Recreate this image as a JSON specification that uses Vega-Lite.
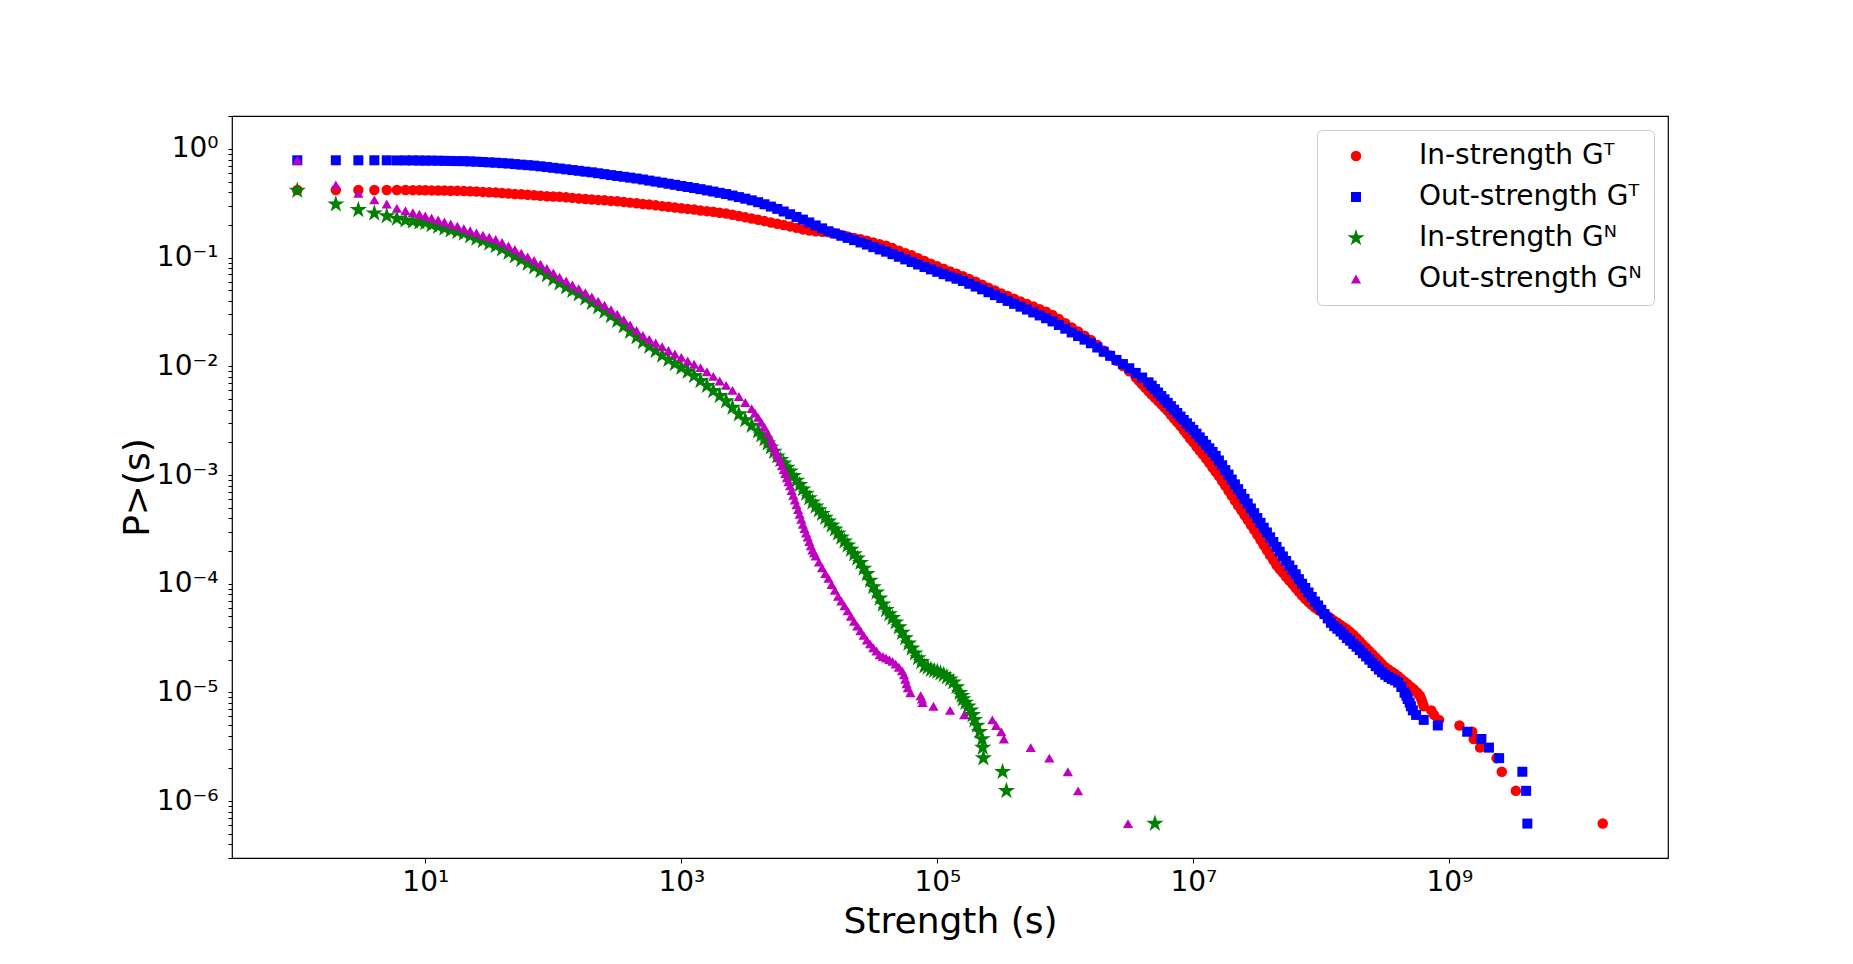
{
"$schema":"https://vega.github.io/schema/vega-lite/v6.json",
"width":1436,"height":742,
"autosize":{"type":"none"},
"padding":{"left":232,"top":116,"right":185,"bottom":106},
"background":"white",
"config":{
 "view":{"stroke":"black","strokeWidth":1.2},
 "font":"DejaVu Sans",
 "axis":{"labelFont":"DejaVu Sans","titleFont":"DejaVu Sans","labelColor":"black","titleColor":"black","tickColor":"black","domain":false,"grid":false,"titleFontWeight":"normal","labelOverlap":false,"labelFlush":false},
 "legend":{"orient":"top-right","offset":14,"fillColor":"rgba(255,255,255,0.8)","strokeColor":"#cccccc","cornerRadius":5,"padding":12,"labelFont":"DejaVu Sans","labelFontSize":28,"labelColor":"black","rowPadding":13,"symbolOffset":13,"labelOffset":49,"labelLimit":500,"symbolStrokeWidth":0}
},
"data":{"values":[
{"k":"IT","s":1,"p":0.42},{"k":"IT","s":2,"p":0.42},{"k":"IT","s":3,"p":0.42},{"k":"IT","s":4,"p":0.42},{"k":"IT","s":5,"p":0.42},
{"k":"IT","s":6,"p":0.419},{"k":"IT","s":7,"p":0.419},{"k":"IT","s":8,"p":0.418},{"k":"IT","s":9,"p":0.418},{"k":"IT","s":10,"p":0.417},
{"k":"IT","s":11.2,"p":0.416},{"k":"IT","s":12.6,"p":0.415},{"k":"IT","s":14.1,"p":0.414},{"k":"IT","s":15.8,"p":0.413},{"k":"IT","s":17.8,"p":0.412},
{"k":"IT","s":20,"p":0.41},{"k":"IT","s":22.4,"p":0.408},{"k":"IT","s":25.1,"p":0.406},{"k":"IT","s":28.2,"p":0.403},{"k":"IT","s":31.6,"p":0.4},
{"k":"IT","s":35.5,"p":0.397},{"k":"IT","s":39.8,"p":0.394},{"k":"IT","s":44.7,"p":0.39},{"k":"IT","s":50.1,"p":0.386},{"k":"IT","s":56.2,"p":0.383},
{"k":"IT","s":63.1,"p":0.379},{"k":"IT","s":70.8,"p":0.375},{"k":"IT","s":79.4,"p":0.371},{"k":"IT","s":89.1,"p":0.368},{"k":"IT","s":100,"p":0.366},
{"k":"IT","s":112,"p":0.363},{"k":"IT","s":126,"p":0.359},{"k":"IT","s":141,"p":0.355},{"k":"IT","s":158,"p":0.351},{"k":"IT","s":178,"p":0.347},
{"k":"IT","s":200,"p":0.343},{"k":"IT","s":224,"p":0.34},{"k":"IT","s":251,"p":0.337},{"k":"IT","s":282,"p":0.333},{"k":"IT","s":316,"p":0.33},
{"k":"IT","s":355,"p":0.326},{"k":"IT","s":398,"p":0.321},{"k":"IT","s":447,"p":0.317},{"k":"IT","s":501,"p":0.312},{"k":"IT","s":562,"p":0.308},
{"k":"IT","s":631,"p":0.303},{"k":"IT","s":708,"p":0.298},{"k":"IT","s":794,"p":0.294},{"k":"IT","s":891,"p":0.289},{"k":"IT","s":1000,"p":0.285},
{"k":"IT","s":1122,"p":0.281},{"k":"IT","s":1259,"p":0.277},{"k":"IT","s":1413,"p":0.272},{"k":"IT","s":1585,"p":0.268},{"k":"IT","s":1778,"p":0.264},
{"k":"IT","s":1995,"p":0.259},{"k":"IT","s":2239,"p":0.255},{"k":"IT","s":2512,"p":0.248},{"k":"IT","s":2818,"p":0.242},{"k":"IT","s":3162,"p":0.235},
{"k":"IT","s":3548,"p":0.229},{"k":"IT","s":3981,"p":0.223},{"k":"IT","s":4467,"p":0.217},{"k":"IT","s":5012,"p":0.211},{"k":"IT","s":5623,"p":0.205},
{"k":"IT","s":6310,"p":0.2},{"k":"IT","s":7079,"p":0.194},{"k":"IT","s":7943,"p":0.188},{"k":"IT","s":8913,"p":0.182},{"k":"IT","s":10000,"p":0.178},
{"k":"IT","s":11220,"p":0.175},{"k":"IT","s":12590,"p":0.173},{"k":"IT","s":14130,"p":0.171},{"k":"IT","s":15850,"p":0.167},{"k":"IT","s":17780,"p":0.162},
{"k":"IT","s":19950,"p":0.157},{"k":"IT","s":22390,"p":0.152},{"k":"IT","s":25120,"p":0.148},{"k":"IT","s":28180,"p":0.143},{"k":"IT","s":31620,"p":0.138},
{"k":"IT","s":35480,"p":0.133},{"k":"IT","s":39810,"p":0.129},{"k":"IT","s":44670,"p":0.1225},{"k":"IT","s":50120,"p":0.116},{"k":"IT","s":56230,"p":0.11},
{"k":"IT","s":63100,"p":0.105},{"k":"IT","s":70790,"p":0.0989},{"k":"IT","s":79430,"p":0.0933},{"k":"IT","s":89130,"p":0.0881},{"k":"IT","s":100000,"p":0.0832},
{"k":"IT","s":112200,"p":0.0789},{"k":"IT","s":125900,"p":0.0748},{"k":"IT","s":141300,"p":0.0711},{"k":"IT","s":158500,"p":0.0676},{"k":"IT","s":177800,"p":0.0638},
{"k":"IT","s":199500,"p":0.06},{"k":"IT","s":223900,"p":0.0564},{"k":"IT","s":251200,"p":0.053},{"k":"IT","s":281800,"p":0.0498},{"k":"IT","s":316200,"p":0.0468},
{"k":"IT","s":354800,"p":0.0443},{"k":"IT","s":398100,"p":0.0419},{"k":"IT","s":446700,"p":0.0396},{"k":"IT","s":501200,"p":0.0375},{"k":"IT","s":562300,"p":0.0355},
{"k":"IT","s":631000,"p":0.0336},{"k":"IT","s":707900,"p":0.0318},{"k":"IT","s":794300,"p":0.0297},{"k":"IT","s":891300,"p":0.0272},{"k":"IT","s":1000000,"p":0.0249},
{"k":"IT","s":1122000,"p":0.0228},{"k":"IT","s":1259000,"p":0.0209},{"k":"IT","s":1413000,"p":0.0191},{"k":"IT","s":1585000,"p":0.0175},{"k":"IT","s":1778000,"p":0.0157},
{"k":"IT","s":1995000,"p":0.014},{"k":"IT","s":2239000,"p":0.0126},{"k":"IT","s":2512000,"p":0.01125},{"k":"IT","s":2818000,"p":0.01007},{"k":"IT","s":3162000,"p":0.00902},
{"k":"IT","s":3548000,"p":0.00794},{"k":"IT","s":3758000,"p":0.00736},{"k":"IT","s":3981000,"p":0.00684},{"k":"IT","s":4217000,"p":0.00634},{"k":"IT","s":4467000,"p":0.00589},
{"k":"IT","s":4732000,"p":0.0055},{"k":"IT","s":5012000,"p":0.00513},{"k":"IT","s":5309000,"p":0.00479},{"k":"IT","s":5623000,"p":0.00447},{"k":"IT","s":5957000,"p":0.00417},
{"k":"IT","s":6310000,"p":0.00389},{"k":"IT","s":6683000,"p":0.00359},{"k":"IT","s":7079000,"p":0.00331},{"k":"IT","s":7499000,"p":0.00305},{"k":"IT","s":7943000,"p":0.00282},
{"k":"IT","s":8414000,"p":0.00258},{"k":"IT","s":8913000,"p":0.00237},{"k":"IT","s":9441000,"p":0.00217},{"k":"IT","s":10000000,"p":0.002},{"k":"IT","s":10590000,"p":0.00183},
{"k":"IT","s":11220000,"p":0.00168},{"k":"IT","s":11890000,"p":0.00154},{"k":"IT","s":12590000,"p":0.00141},{"k":"IT","s":13340000,"p":0.00129},{"k":"IT","s":14130000,"p":0.00117},
{"k":"IT","s":14960000,"p":0.00107},{"k":"IT","s":15850000,"p":0.000977},{"k":"IT","s":16790000,"p":0.000881},{"k":"IT","s":17780000,"p":0.000794},{"k":"IT","s":18840000,"p":0.000716},
{"k":"IT","s":19950000,"p":0.000646},{"k":"IT","s":21130000,"p":0.000582},{"k":"IT","s":22390000,"p":0.000525},{"k":"IT","s":23710000,"p":0.000473},{"k":"IT","s":25120000,"p":0.000427},
{"k":"IT","s":26610000,"p":0.000385},{"k":"IT","s":28180000,"p":0.000347},{"k":"IT","s":29850000,"p":0.000313},{"k":"IT","s":31620000,"p":0.000282},{"k":"IT","s":33500000,"p":0.000252},
{"k":"IT","s":35480000,"p":0.000226},{"k":"IT","s":37580000,"p":0.000203},{"k":"IT","s":39810000,"p":0.000182},{"k":"IT","s":42170000,"p":0.000164},{"k":"IT","s":44670000,"p":0.000148},
{"k":"IT","s":47320000,"p":0.000136},{"k":"IT","s":50120000,"p":0.000126},{"k":"IT","s":53090000,"p":0.000116},{"k":"IT","s":56230000,"p":0.000107},{"k":"IT","s":59570000,"p":0.0000989},
{"k":"IT","s":63100000,"p":0.0000912},{"k":"IT","s":66830000,"p":0.0000841},{"k":"IT","s":70790000,"p":0.0000776},{"k":"IT","s":74990000,"p":0.0000724},{"k":"IT","s":79430000,"p":0.0000676},
{"k":"IT","s":84140000,"p":0.0000638},{"k":"IT","s":89130000,"p":0.0000603},{"k":"IT","s":94410000,"p":0.0000575},{"k":"IT","s":100000000,"p":0.000055},{"k":"IT","s":105900000,"p":0.0000525},
{"k":"IT","s":112200000,"p":0.0000501},{"k":"IT","s":118900000,"p":0.0000479},{"k":"IT","s":125900000,"p":0.0000457},{"k":"IT","s":133400000,"p":0.0000437},{"k":"IT","s":141300000,"p":0.0000417},
{"k":"IT","s":149600000,"p":0.0000398},{"k":"IT","s":158500000,"p":0.000038},{"k":"IT","s":167900000,"p":0.0000359},{"k":"IT","s":177800000,"p":0.0000339},{"k":"IT","s":188400000,"p":0.0000316},
{"k":"IT","s":199500000,"p":0.0000295},{"k":"IT","s":211300000,"p":0.0000275},{"k":"IT","s":223900000,"p":0.0000257},{"k":"IT","s":237100000,"p":0.000024},{"k":"IT","s":251200000,"p":0.0000224},
{"k":"IT","s":266100000,"p":0.0000209},{"k":"IT","s":281800000,"p":0.0000195},{"k":"IT","s":298500000,"p":0.0000182},{"k":"IT","s":316200000,"p":0.000017},{"k":"IT","s":335000000,"p":0.0000162},
{"k":"IT","s":354800000,"p":0.0000155},{"k":"IT","s":375800000,"p":0.0000148},{"k":"IT","s":398100000,"p":0.0000141},{"k":"IT","s":421700000,"p":0.0000133},{"k":"IT","s":446700000,"p":0.0000126},
{"k":"IT","s":473200000,"p":0.0000119},{"k":"IT","s":501200000,"p":0.0000112},{"k":"IT","s":530900000,"p":0.0000106},{"k":"IT","s":562300000,"p":0.00000992},{"k":"IT","s":589000000,"p":0.0000093},
{"k":"IT","s":603000000,"p":0.00000868},{"k":"IT","s":617000000,"p":0.00000806},{"k":"IT","s":631000000,"p":0.00000744},{"k":"IT","s":724000000,"p":0.00000682},{"k":"IT","s":759000000,"p":0.0000062},
{"k":"IT","s":832000000,"p":0.00000558},{"k":"IT","s":1200000000,"p":0.00000496},{"k":"IT","s":1510000000,"p":0.00000434},{"k":"IT","s":1550000000,"p":0.00000372},{"k":"IT","s":1740000000,"p":0.0000031},
{"k":"IT","s":2340000000,"p":0.00000248},{"k":"IT","s":2570000000,"p":0.00000186},{"k":"IT","s":3310000000,"p":0.00000124},{"k":"IT","s":15800000000,"p":0.00000062},
{"k":"OT","s":1,"p":0.787},{"k":"OT","s":2,"p":0.787},{"k":"OT","s":3,"p":0.787},{"k":"OT","s":4,"p":0.787},{"k":"OT","s":5,"p":0.787},
{"k":"OT","s":6,"p":0.785},{"k":"OT","s":7,"p":0.785},{"k":"OT","s":8,"p":0.785},{"k":"OT","s":9,"p":0.783},{"k":"OT","s":10,"p":0.782},
{"k":"OT","s":11.2,"p":0.782},{"k":"OT","s":12.6,"p":0.78},{"k":"OT","s":14.1,"p":0.778},{"k":"OT","s":15.8,"p":0.776},{"k":"OT","s":17.8,"p":0.774},
{"k":"OT","s":20,"p":0.773},{"k":"OT","s":22.4,"p":0.769},{"k":"OT","s":25.1,"p":0.764},{"k":"OT","s":28.2,"p":0.759},{"k":"OT","s":31.6,"p":0.753},
{"k":"OT","s":35.5,"p":0.748},{"k":"OT","s":39.8,"p":0.741},{"k":"OT","s":44.7,"p":0.735},{"k":"OT","s":50.1,"p":0.726},{"k":"OT","s":56.2,"p":0.718},
{"k":"OT","s":63.1,"p":0.71},{"k":"OT","s":70.8,"p":0.703},{"k":"OT","s":79.4,"p":0.693},{"k":"OT","s":89.1,"p":0.682},{"k":"OT","s":100,"p":0.671},
{"k":"OT","s":112,"p":0.661},{"k":"OT","s":126,"p":0.65},{"k":"OT","s":141,"p":0.64},{"k":"OT","s":158,"p":0.63},{"k":"OT","s":178,"p":0.619},
{"k":"OT","s":200,"p":0.61},{"k":"OT","s":224,"p":0.598},{"k":"OT","s":251,"p":0.587},{"k":"OT","s":282,"p":0.575},{"k":"OT","s":316,"p":0.565},
{"k":"OT","s":355,"p":0.555},{"k":"OT","s":398,"p":0.545},{"k":"OT","s":447,"p":0.535},{"k":"OT","s":501,"p":0.524},{"k":"OT","s":562,"p":0.512},
{"k":"OT","s":631,"p":0.501},{"k":"OT","s":708,"p":0.49},{"k":"OT","s":794,"p":0.479},{"k":"OT","s":891,"p":0.468},{"k":"OT","s":1000,"p":0.457},
{"k":"OT","s":1122,"p":0.447},{"k":"OT","s":1259,"p":0.437},{"k":"OT","s":1413,"p":0.427},{"k":"OT","s":1585,"p":0.416},{"k":"OT","s":1778,"p":0.406},
{"k":"OT","s":1995,"p":0.395},{"k":"OT","s":2239,"p":0.385},{"k":"OT","s":2512,"p":0.373},{"k":"OT","s":2818,"p":0.361},{"k":"OT","s":3162,"p":0.349},
{"k":"OT","s":3548,"p":0.337},{"k":"OT","s":3981,"p":0.324},{"k":"OT","s":4467,"p":0.31},{"k":"OT","s":5012,"p":0.295},{"k":"OT","s":5623,"p":0.281},
{"k":"OT","s":6310,"p":0.266},{"k":"OT","s":7079,"p":0.251},{"k":"OT","s":7943,"p":0.237},{"k":"OT","s":8913,"p":0.224},{"k":"OT","s":10000,"p":0.211},
{"k":"OT","s":11220,"p":0.198},{"k":"OT","s":12590,"p":0.186},{"k":"OT","s":14130,"p":0.175},{"k":"OT","s":15850,"p":0.167},{"k":"OT","s":17780,"p":0.159},
{"k":"OT","s":19950,"p":0.152},{"k":"OT","s":22390,"p":0.145},{"k":"OT","s":25120,"p":0.138},{"k":"OT","s":28180,"p":0.132},{"k":"OT","s":31620,"p":0.125},
{"k":"OT","s":35480,"p":0.119},{"k":"OT","s":39810,"p":0.1135},{"k":"OT","s":44670,"p":0.1076},{"k":"OT","s":50120,"p":0.1019},{"k":"OT","s":56230,"p":0.0964},
{"k":"OT","s":63100,"p":0.0912},{"k":"OT","s":70790,"p":0.0865},{"k":"OT","s":79430,"p":0.082},{"k":"OT","s":89130,"p":0.078},{"k":"OT","s":100000,"p":0.0741},
{"k":"OT","s":112200,"p":0.0705},{"k":"OT","s":125900,"p":0.0671},{"k":"OT","s":141300,"p":0.064},{"k":"OT","s":158500,"p":0.061},{"k":"OT","s":177800,"p":0.0575},
{"k":"OT","s":199500,"p":0.0542},{"k":"OT","s":223900,"p":0.0511},{"k":"OT","s":251200,"p":0.0481},{"k":"OT","s":281800,"p":0.0452},{"k":"OT","s":316200,"p":0.0425},
{"k":"OT","s":354800,"p":0.04},{"k":"OT","s":398100,"p":0.0376},{"k":"OT","s":446700,"p":0.0354},{"k":"OT","s":501200,"p":0.0333},{"k":"OT","s":562300,"p":0.0313},
{"k":"OT","s":631000,"p":0.0294},{"k":"OT","s":707900,"p":0.0277},{"k":"OT","s":794300,"p":0.0259},{"k":"OT","s":891300,"p":0.024},{"k":"OT","s":1000000,"p":0.0222},
{"k":"OT","s":1122000,"p":0.0205},{"k":"OT","s":1259000,"p":0.019},{"k":"OT","s":1413000,"p":0.0176},{"k":"OT","s":1585000,"p":0.0163},{"k":"OT","s":1778000,"p":0.0149},
{"k":"OT","s":1995000,"p":0.0136},{"k":"OT","s":2239000,"p":0.0125},{"k":"OT","s":2512000,"p":0.01146},{"k":"OT","s":2818000,"p":0.0105},{"k":"OT","s":3162000,"p":0.0096},
{"k":"OT","s":3548000,"p":0.0087},{"k":"OT","s":3981000,"p":0.00789},{"k":"OT","s":4467000,"p":0.00713},{"k":"OT","s":4732000,"p":0.00664},{"k":"OT","s":5012000,"p":0.00618},
{"k":"OT","s":5309000,"p":0.00574},{"k":"OT","s":5623000,"p":0.00533},{"k":"OT","s":5957000,"p":0.00497},{"k":"OT","s":6310000,"p":0.00461},{"k":"OT","s":6683000,"p":0.0043},
{"k":"OT","s":7079000,"p":0.00399},{"k":"OT","s":7499000,"p":0.00372},{"k":"OT","s":7943000,"p":0.00345},{"k":"OT","s":8414000,"p":0.00321},{"k":"OT","s":8913000,"p":0.00299},
{"k":"OT","s":9441000,"p":0.00278},{"k":"OT","s":10000000,"p":0.0026},{"k":"OT","s":10590000,"p":0.0024},{"k":"OT","s":11220000,"p":0.00222},{"k":"OT","s":11890000,"p":0.00206},
{"k":"OT","s":12590000,"p":0.0019},{"k":"OT","s":13340000,"p":0.00176},{"k":"OT","s":14130000,"p":0.00163},{"k":"OT","s":14960000,"p":0.0015},{"k":"OT","s":15850000,"p":0.00136},
{"k":"OT","s":16790000,"p":0.00123},{"k":"OT","s":17780000,"p":0.00111},{"k":"OT","s":18840000,"p":0.00101},{"k":"OT","s":19950000,"p":0.000908},{"k":"OT","s":21130000,"p":0.00082},
{"k":"OT","s":22390000,"p":0.000741},{"k":"OT","s":23710000,"p":0.00067},{"k":"OT","s":25120000,"p":0.000604},{"k":"OT","s":26610000,"p":0.000546},{"k":"OT","s":28180000,"p":0.000492},
{"k":"OT","s":29850000,"p":0.000445},{"k":"OT","s":31620000,"p":0.000402},{"k":"OT","s":33500000,"p":0.000363},{"k":"OT","s":35480000,"p":0.000327},{"k":"OT","s":37580000,"p":0.000296},
{"k":"OT","s":39810000,"p":0.000267},{"k":"OT","s":42170000,"p":0.000242},{"k":"OT","s":44670000,"p":0.000218},{"k":"OT","s":47320000,"p":0.000197},{"k":"OT","s":50120000,"p":0.000178},
{"k":"OT","s":53090000,"p":0.000162},{"k":"OT","s":56230000,"p":0.000147},{"k":"OT","s":59570000,"p":0.000134},{"k":"OT","s":63100000,"p":0.000122},{"k":"OT","s":66830000,"p":0.00011},
{"k":"OT","s":70790000,"p":0.0001},{"k":"OT","s":74990000,"p":0.0000912},{"k":"OT","s":79430000,"p":0.000083},{"k":"OT","s":84140000,"p":0.0000755},{"k":"OT","s":89130000,"p":0.0000685},
{"k":"OT","s":94410000,"p":0.0000631},{"k":"OT","s":100000000,"p":0.0000575},{"k":"OT","s":105900000,"p":0.0000525},{"k":"OT","s":112200000,"p":0.0000479},{"k":"OT","s":118900000,"p":0.0000437},
{"k":"OT","s":125900000,"p":0.0000407},{"k":"OT","s":133400000,"p":0.0000385},{"k":"OT","s":141300000,"p":0.0000363},{"k":"OT","s":149600000,"p":0.0000339},{"k":"OT","s":158500000,"p":0.0000316},
{"k":"OT","s":167900000,"p":0.0000299},{"k":"OT","s":177800000,"p":0.0000279},{"k":"OT","s":188400000,"p":0.0000263},{"k":"OT","s":199500000,"p":0.0000245},{"k":"OT","s":211300000,"p":0.0000229},
{"k":"OT","s":223900000,"p":0.0000214},{"k":"OT","s":237100000,"p":0.00002},{"k":"OT","s":251200000,"p":0.0000186},{"k":"OT","s":266100000,"p":0.0000174},{"k":"OT","s":281800000,"p":0.0000162},
{"k":"OT","s":298500000,"p":0.0000153},{"k":"OT","s":316200000,"p":0.0000145},{"k":"OT","s":335000000,"p":0.0000138},{"k":"OT","s":354800000,"p":0.0000133},{"k":"OT","s":375800000,"p":0.0000129},
{"k":"OT","s":398100000,"p":0.0000123},{"k":"OT","s":421700000,"p":0.0000112},{"k":"OT","s":446700000,"p":0.00000992},{"k":"OT","s":462000000,"p":0.0000093},{"k":"OT","s":473200000,"p":0.00000868},
{"k":"OT","s":490000000,"p":0.00000806},{"k":"OT","s":501200000,"p":0.00000744},{"k":"OT","s":519000000,"p":0.00000682},{"k":"OT","s":550000000,"p":0.0000062},{"k":"OT","s":631000000,"p":0.00000558},
{"k":"OT","s":813000000,"p":0.00000496},{"k":"OT","s":1380000000,"p":0.00000434},{"k":"OT","s":1780000000,"p":0.00000372},{"k":"OT","s":2040000000,"p":0.0000031},{"k":"OT","s":2450000000,"p":0.00000248},
{"k":"OT","s":3720000000,"p":0.00000186},{"k":"OT","s":3980000000,"p":0.00000124},{"k":"OT","s":4070000000,"p":0.00000062},
{"k":"IN","s":1,"p":0.414},{"k":"IN","s":2,"p":0.31},{"k":"IN","s":3,"p":0.275},{"k":"IN","s":4,"p":0.256},{"k":"IN","s":5,"p":0.242},
{"k":"IN","s":6,"p":0.229},{"k":"IN","s":7,"p":0.221},{"k":"IN","s":8,"p":0.216},{"k":"IN","s":9,"p":0.212},{"k":"IN","s":10,"p":0.209},
{"k":"IN","s":11.2,"p":0.2},{"k":"IN","s":12.6,"p":0.193},{"k":"IN","s":14.1,"p":0.186},{"k":"IN","s":15.8,"p":0.179},{"k":"IN","s":17.8,"p":0.173},
{"k":"IN","s":20,"p":0.167},{"k":"IN","s":22.4,"p":0.158},{"k":"IN","s":25.1,"p":0.15},{"k":"IN","s":28.2,"p":0.143},{"k":"IN","s":31.6,"p":0.135},
{"k":"IN","s":35.5,"p":0.128},{"k":"IN","s":39.8,"p":0.12},{"k":"IN","s":44.7,"p":0.111},{"k":"IN","s":50.1,"p":0.103},{"k":"IN","s":56.2,"p":0.0955},
{"k":"IN","s":63.1,"p":0.0883},{"k":"IN","s":70.8,"p":0.0818},{"k":"IN","s":79.4,"p":0.0755},{"k":"IN","s":89.1,"p":0.0692},{"k":"IN","s":100,"p":0.0634},
{"k":"IN","s":112,"p":0.0581},{"k":"IN","s":126,"p":0.0535},{"k":"IN","s":141,"p":0.0497},{"k":"IN","s":158,"p":0.0461},{"k":"IN","s":178,"p":0.0421},
{"k":"IN","s":200,"p":0.0384},{"k":"IN","s":224,"p":0.035},{"k":"IN","s":251,"p":0.0319},{"k":"IN","s":282,"p":0.0291},{"k":"IN","s":316,"p":0.0263},
{"k":"IN","s":355,"p":0.0234},{"k":"IN","s":398,"p":0.0209},{"k":"IN","s":447,"p":0.0186},{"k":"IN","s":501,"p":0.0167},{"k":"IN","s":562,"p":0.0152},
{"k":"IN","s":631,"p":0.0139},{"k":"IN","s":708,"p":0.0126},{"k":"IN","s":794,"p":0.0115},{"k":"IN","s":891,"p":0.01054},{"k":"IN","s":1000,"p":0.0097},
{"k":"IN","s":1122,"p":0.00893},{"k":"IN","s":1259,"p":0.00817},{"k":"IN","s":1413,"p":0.00735},{"k":"IN","s":1585,"p":0.00661},{"k":"IN","s":1778,"p":0.00594},
{"k":"IN","s":1995,"p":0.00535},{"k":"IN","s":2239,"p":0.00479},{"k":"IN","s":2512,"p":0.00417},{"k":"IN","s":2818,"p":0.00363},{"k":"IN","s":3162,"p":0.00321},
{"k":"IN","s":3548,"p":0.00285},{"k":"IN","s":3981,"p":0.00253},{"k":"IN","s":4217,"p":0.00233},{"k":"IN","s":4467,"p":0.00214},{"k":"IN","s":4732,"p":0.00196},
{"k":"IN","s":5012,"p":0.0018},{"k":"IN","s":5309,"p":0.00164},{"k":"IN","s":5623,"p":0.00149},{"k":"IN","s":5957,"p":0.00138},{"k":"IN","s":6310,"p":0.00128},
{"k":"IN","s":6683,"p":0.00117},{"k":"IN","s":7079,"p":0.00108},{"k":"IN","s":7499,"p":0.000982},{"k":"IN","s":7943,"p":0.000891},{"k":"IN","s":8414,"p":0.000813},
{"k":"IN","s":8913,"p":0.00074},{"k":"IN","s":9441,"p":0.000675},{"k":"IN","s":10000,"p":0.000614},{"k":"IN","s":10590,"p":0.000562},{"k":"IN","s":11220,"p":0.000515},
{"k":"IN","s":11890,"p":0.000476},{"k":"IN","s":12590,"p":0.00044},{"k":"IN","s":13340,"p":0.000406},{"k":"IN","s":14130,"p":0.000375},{"k":"IN","s":14960,"p":0.000344},
{"k":"IN","s":15850,"p":0.000316},{"k":"IN","s":16790,"p":0.000291},{"k":"IN","s":17780,"p":0.000267},{"k":"IN","s":18840,"p":0.000246},{"k":"IN","s":19950,"p":0.000226},
{"k":"IN","s":21130,"p":0.000206},{"k":"IN","s":22390,"p":0.000187},{"k":"IN","s":23710,"p":0.000171},{"k":"IN","s":25120,"p":0.000156},{"k":"IN","s":26610,"p":0.000138},
{"k":"IN","s":28180,"p":0.000123},{"k":"IN","s":29850,"p":0.000107},{"k":"IN","s":31620,"p":0.0000933},{"k":"IN","s":33500,"p":0.0000832},{"k":"IN","s":35480,"p":0.0000733},
{"k":"IN","s":37580,"p":0.0000646},{"k":"IN","s":39810,"p":0.0000575},{"k":"IN","s":42170,"p":0.0000525},{"k":"IN","s":44670,"p":0.0000484},{"k":"IN","s":47320,"p":0.0000442},
{"k":"IN","s":50120,"p":0.0000398},{"k":"IN","s":53090,"p":0.0000355},{"k":"IN","s":56230,"p":0.0000316},{"k":"IN","s":59570,"p":0.0000282},{"k":"IN","s":63100,"p":0.0000254},
{"k":"IN","s":66830,"p":0.0000229},{"k":"IN","s":70790,"p":0.0000207},{"k":"IN","s":74990,"p":0.0000191},{"k":"IN","s":79430,"p":0.0000174},{"k":"IN","s":84140,"p":0.000017},
{"k":"IN","s":89130,"p":0.0000162},{"k":"IN","s":94410,"p":0.0000158},{"k":"IN","s":100000,"p":0.0000155},{"k":"IN","s":105900,"p":0.000015},{"k":"IN","s":112200,"p":0.0000145},
{"k":"IN","s":118900,"p":0.0000138},{"k":"IN","s":125900,"p":0.0000132},{"k":"IN","s":133400,"p":0.0000124},{"k":"IN","s":141300,"p":0.0000112},{"k":"IN","s":149600,"p":0.00000992},
{"k":"IN","s":155000,"p":0.0000093},{"k":"IN","s":158500,"p":0.00000868},{"k":"IN","s":166000,"p":0.00000806},{"k":"IN","s":173800,"p":0.00000744},{"k":"IN","s":182000,"p":0.00000682},
{"k":"IN","s":188400,"p":0.0000062},{"k":"IN","s":195000,"p":0.00000558},{"k":"IN","s":204200,"p":0.00000496},{"k":"IN","s":213800,"p":0.00000434},{"k":"IN","s":223900,"p":0.00000372},
{"k":"IN","s":226500,"p":0.0000031},{"k":"IN","s":229100,"p":0.00000248},{"k":"IN","s":323600,"p":0.00000186},{"k":"IN","s":346700,"p":0.00000124},{"k":"IN","s":5012000,"p":0.00000062},
{"k":"ON","s":1,"p":0.787},{"k":"ON","s":2,"p":0.466},{"k":"ON","s":3,"p":0.39},{"k":"ON","s":4,"p":0.34},{"k":"ON","s":5,"p":0.312},
{"k":"ON","s":6,"p":0.284},{"k":"ON","s":7,"p":0.27},{"k":"ON","s":8,"p":0.26},{"k":"ON","s":9,"p":0.251},{"k":"ON","s":10,"p":0.242},
{"k":"ON","s":11.2,"p":0.232},{"k":"ON","s":12.6,"p":0.222},{"k":"ON","s":14.1,"p":0.213},{"k":"ON","s":15.8,"p":0.204},{"k":"ON","s":17.8,"p":0.195},
{"k":"ON","s":20,"p":0.185},{"k":"ON","s":22.4,"p":0.177},{"k":"ON","s":25.1,"p":0.169},{"k":"ON","s":28.2,"p":0.161},{"k":"ON","s":31.6,"p":0.154},
{"k":"ON","s":35.5,"p":0.147},{"k":"ON","s":39.8,"p":0.138},{"k":"ON","s":44.7,"p":0.128},{"k":"ON","s":50.1,"p":0.119},{"k":"ON","s":56.2,"p":0.11},
{"k":"ON","s":63.1,"p":0.1016},{"k":"ON","s":70.8,"p":0.0942},{"k":"ON","s":79.4,"p":0.0871},{"k":"ON","s":89.1,"p":0.0794},{"k":"ON","s":100,"p":0.0724},
{"k":"ON","s":112,"p":0.0661},{"k":"ON","s":126,"p":0.061},{"k":"ON","s":141,"p":0.0562},{"k":"ON","s":158,"p":0.0519},{"k":"ON","s":178,"p":0.0475},
{"k":"ON","s":200,"p":0.0435},{"k":"ON","s":224,"p":0.0398},{"k":"ON","s":251,"p":0.0365},{"k":"ON","s":282,"p":0.0333},{"k":"ON","s":316,"p":0.0302},
{"k":"ON","s":355,"p":0.0269},{"k":"ON","s":398,"p":0.024},{"k":"ON","s":447,"p":0.0214},{"k":"ON","s":501,"p":0.0192},{"k":"ON","s":562,"p":0.0177},
{"k":"ON","s":631,"p":0.0164},{"k":"ON","s":708,"p":0.0152},{"k":"ON","s":794,"p":0.014},{"k":"ON","s":891,"p":0.013},{"k":"ON","s":1000,"p":0.0121},
{"k":"ON","s":1122,"p":0.0112},{"k":"ON","s":1259,"p":0.01045},{"k":"ON","s":1413,"p":0.00973},{"k":"ON","s":1585,"p":0.00891},{"k":"ON","s":1778,"p":0.00809},
{"k":"ON","s":1995,"p":0.00733},{"k":"ON","s":2239,"p":0.00668},{"k":"ON","s":2512,"p":0.00601},{"k":"ON","s":2818,"p":0.00528},{"k":"ON","s":3162,"p":0.00465},
{"k":"ON","s":3548,"p":0.00408},{"k":"ON","s":3758,"p":0.00372},{"k":"ON","s":3981,"p":0.00339},{"k":"ON","s":4217,"p":0.00305},{"k":"ON","s":4467,"p":0.00275},
{"k":"ON","s":4732,"p":0.00242},{"k":"ON","s":5012,"p":0.00212},{"k":"ON","s":5158,"p":0.00196},{"k":"ON","s":5309,"p":0.00181},{"k":"ON","s":5464,"p":0.00167},
{"k":"ON","s":5623,"p":0.00155},{"k":"ON","s":5787,"p":0.00144},{"k":"ON","s":5957,"p":0.00133},{"k":"ON","s":6131,"p":0.00122},{"k":"ON","s":6310,"p":0.00112},
{"k":"ON","s":6494,"p":0.00103},{"k":"ON","s":6683,"p":0.000944},{"k":"ON","s":6878,"p":0.000867},{"k":"ON","s":7079,"p":0.000794},{"k":"ON","s":7286,"p":0.000718},
{"k":"ON","s":7499,"p":0.000649},{"k":"ON","s":7718,"p":0.000587},{"k":"ON","s":7943,"p":0.000531},{"k":"ON","s":8175,"p":0.00048},{"k":"ON","s":8414,"p":0.000434},
{"k":"ON","s":8660,"p":0.000391},{"k":"ON","s":8913,"p":0.000352},{"k":"ON","s":9173,"p":0.000321},{"k":"ON","s":9441,"p":0.000293},{"k":"ON","s":9717,"p":0.000268},
{"k":"ON","s":10000,"p":0.000244},{"k":"ON","s":10290,"p":0.000223},{"k":"ON","s":10590,"p":0.000204},{"k":"ON","s":10900,"p":0.000192},{"k":"ON","s":11220,"p":0.00018},
{"k":"ON","s":11890,"p":0.000158},{"k":"ON","s":12590,"p":0.00014},{"k":"ON","s":13340,"p":0.000124},{"k":"ON","s":14130,"p":0.000112},{"k":"ON","s":14960,"p":0.0000982},
{"k":"ON","s":15850,"p":0.0000867},{"k":"ON","s":16790,"p":0.0000764},{"k":"ON","s":17780,"p":0.0000692},{"k":"ON","s":18840,"p":0.0000624},{"k":"ON","s":19950,"p":0.0000562},
{"k":"ON","s":21130,"p":0.0000501},{"k":"ON","s":22390,"p":0.000045},{"k":"ON","s":23710,"p":0.0000407},{"k":"ON","s":25120,"p":0.0000369},{"k":"ON","s":26610,"p":0.0000334},
{"k":"ON","s":28180,"p":0.0000302},{"k":"ON","s":29850,"p":0.0000279},{"k":"ON","s":31620,"p":0.0000257},{"k":"ON","s":33500,"p":0.000024},{"k":"ON","s":35480,"p":0.0000221},
{"k":"ON","s":37580,"p":0.0000214},{"k":"ON","s":39810,"p":0.0000207},{"k":"ON","s":42170,"p":0.00002},{"k":"ON","s":44670,"p":0.0000193},{"k":"ON","s":47320,"p":0.0000182},
{"k":"ON","s":50120,"p":0.000017},{"k":"ON","s":53090,"p":0.0000158},{"k":"ON","s":54950,"p":0.0000145},{"k":"ON","s":56230,"p":0.0000132},{"k":"ON","s":57540,"p":0.000012},
{"k":"ON","s":58880,"p":0.000011},{"k":"ON","s":61660,"p":0.00000992},{"k":"ON","s":74130,"p":0.0000093},{"k":"ON","s":75860,"p":0.00000868},{"k":"ON","s":76740,"p":0.00000806},
{"k":"ON","s":93330,"p":0.00000744},{"k":"ON","s":125900,"p":0.00000682},{"k":"ON","s":162200,"p":0.0000062},{"k":"ON","s":269200,"p":0.00000558},{"k":"ON","s":288400,"p":0.00000496},
{"k":"ON","s":316200,"p":0.00000434},{"k":"ON","s":331100,"p":0.00000372},{"k":"ON","s":537000,"p":0.0000031},{"k":"ON","s":749900,"p":0.00000248},{"k":"ON","s":1047000,"p":0.00000186},
{"k":"ON","s":1259000,"p":0.00000124},{"k":"ON","s":3090000,"p":0.00000062}
]},
"mark":{"type":"point","filled":true,"opacity":1,"strokeWidth":0},
"encoding":{
 "x":{"field":"s","type":"quantitative","scale":{"type":"log","domain":[0.309,51100000000],"nice":false},
  "axis":{"values":[10,1000,100000,10000000,1000000000],"labelExpr":"['10⁰','10¹','10²','10³','10⁴','10⁵','10⁶','10⁷','10⁸','10⁹','10¹⁰'][round(log(datum.value)/LN10)]","title":"Strength (s)","titleFontSize":36,"labelFontSize":28,"tickSize":5,"labelPadding":5,"titlePadding":8}},
 "y":{"field":"p","type":"quantitative","scale":{"type":"log","domain":[2.99e-7,2.012],"nice":false},
  "axis":{"values":[2,1,0.9,0.8,0.7,0.6,0.5,0.4,0.3,0.2,0.1,0.09,0.08,0.07,0.06,0.05,0.04,0.03,0.02,0.01,0.009,0.008,0.007,0.006,0.005,0.004,0.003,0.002,0.001,0.0009,0.0008,0.0007,0.0006,0.0005,0.0004,0.0003,0.0002,0.0001,0.00009,0.00008,0.00007,0.00006,0.00005,0.00004,0.00003,0.00002,0.00001,0.000009,0.000008,0.000007,0.000006,0.000005,0.000004,0.000003,0.000002,0.000001,9e-7,8e-7,7e-7,6e-7,5e-7,4e-7,3e-7],
   "labelExpr":"abs(log(datum.value)/LN10-round(log(datum.value)/LN10))<0.01 ? ['10⁰','10⁻¹','10⁻²','10⁻³','10⁻⁴','10⁻⁵','10⁻⁶'][round(-log(datum.value)/LN10)] : ''",
   "tickSize":4,
   "title":"P>(s)","titleFontSize":36,"labelFontSize":28,"labelPadding":10,"titlePadding":0}},
 "color":{"field":"k","type":"nominal","scale":{"domain":["IT","OT","IN","ON"],"range":["#ff0000","#0000ff","#008000","#bf00bf"]},
  "legend":{"title":null,"labelExpr":"datum.label=='IT'?'In-strength Gᵀ':datum.label=='OT'?'Out-strength Gᵀ':datum.label=='IN'?'In-strength Gᴺ':'Out-strength Gᴺ'"}},
 "shape":{"field":"k","type":"nominal","scale":{"domain":["IT","OT","IN","ON"],"range":["circle","square","M0,-1L0.2245,-0.309L0.951,-0.309L0.3633,0.118L0.588,0.809L0,0.382L-0.588,0.809L-0.3633,0.118L-0.951,-0.309L-0.2245,-0.309Z","triangle-up"]},
  "legend":{"title":null,"labelExpr":"datum.label=='IT'?'In-strength Gᵀ':datum.label=='OT'?'Out-strength Gᵀ':datum.label=='IN'?'In-strength Gᴺ':'Out-strength Gᴺ'"}},
 "size":{"field":"k","type":"nominal","scale":{"type":"ordinal","domain":["IT","OT","IN","ON"],"range":[110,100,330,105]},
  "legend":{"title":null,"labelExpr":"datum.label=='IT'?'In-strength Gᵀ':datum.label=='OT'?'Out-strength Gᵀ':datum.label=='IN'?'In-strength Gᴺ':'Out-strength Gᴺ'"}}
}
}
